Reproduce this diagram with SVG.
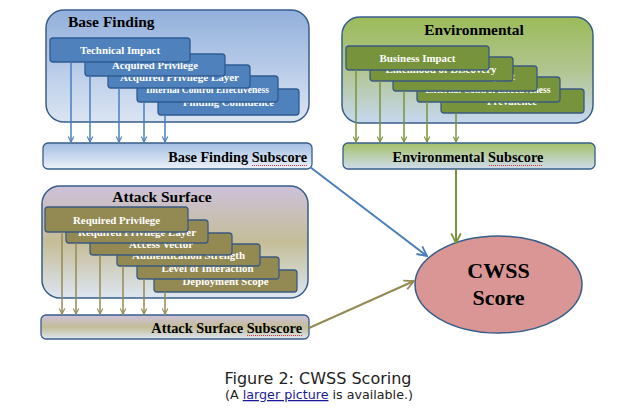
<svg xmlns="http://www.w3.org/2000/svg" width="625" height="412" viewBox="0 0 625 412">
<defs>
<linearGradient id="gBlue" x1="0" y1="0" x2="0" y2="1"><stop offset="0" stop-color="#92b0dc"/><stop offset="1" stop-color="#dbe5f3"/></linearGradient>
<linearGradient id="gBlueBar" x1="0" y1="0" x2="0" y2="1"><stop offset="0" stop-color="#a3bde2"/><stop offset="1" stop-color="#edf2f9"/></linearGradient>
<linearGradient id="gGreen" x1="0" y1="0" x2="0" y2="1"><stop offset="0" stop-color="#9bbb59"/><stop offset="0.5" stop-color="#b1c58f"/><stop offset="1" stop-color="#c6d8f0"/></linearGradient>
<linearGradient id="gGreenBar" x1="0" y1="0" x2="0" y2="1"><stop offset="0" stop-color="#a4c169"/><stop offset="1" stop-color="#cfdcec"/></linearGradient>
<linearGradient id="gOlive" x1="0" y1="0" x2="0" y2="1"><stop offset="0" stop-color="#cdc1da"/><stop offset="0.5" stop-color="#c4bd97"/><stop offset="1" stop-color="#dde6f2"/></linearGradient>
<marker id="aBlue" viewBox="0 0 10 10" refX="9" refY="5" markerWidth="7" markerHeight="7" orient="auto" markerUnits="userSpaceOnUse"><path d="M1,1 L9,5 L1,9" fill="none" stroke="#4a7ebb" stroke-width="1.6"/></marker>
<marker id="aGreen" viewBox="0 0 10 10" refX="9" refY="5" markerWidth="7" markerHeight="7" orient="auto" markerUnits="userSpaceOnUse"><path d="M1,1 L9,5 L1,9" fill="none" stroke="#77933c" stroke-width="1.6"/></marker>
<marker id="aOlive" viewBox="0 0 10 10" refX="9" refY="5" markerWidth="7" markerHeight="7" orient="auto" markerUnits="userSpaceOnUse"><path d="M1,1 L9,5 L1,9" fill="none" stroke="#948a54" stroke-width="1.6"/></marker>
<marker id="aBlueL" viewBox="0 0 10 10" refX="9" refY="5" markerWidth="12" markerHeight="12" orient="auto" markerUnits="userSpaceOnUse"><path d="M1,1 L9,5 L1,9" fill="none" stroke="#4a7ebb" stroke-width="1.5"/></marker>
<marker id="aGreenL" viewBox="0 0 10 10" refX="9" refY="5" markerWidth="12" markerHeight="12" orient="auto" markerUnits="userSpaceOnUse"><path d="M1,1 L9,5 L1,9" fill="none" stroke="#77933c" stroke-width="1.5"/></marker>
<marker id="aOliveL" viewBox="0 0 10 10" refX="9" refY="5" markerWidth="12" markerHeight="12" orient="auto" markerUnits="userSpaceOnUse"><path d="M1,1 L9,5 L1,9" fill="none" stroke="#948a54" stroke-width="1.5"/></marker>
</defs>
<style>
.cont{stroke:#385d8a;stroke-width:1.5}
.bar{stroke:#385d8a;stroke-width:1.3}
.bb{fill:#4f81bd;stroke:#2f5b91;stroke-width:1.3}
.gb{fill:#77933c;stroke:#3b5a80;stroke-width:1.3}
.ob{fill:#938953;stroke:#3b5a80;stroke-width:1.3}
.bt{font-family:"Liberation Serif",serif;font-weight:bold;font-size:11px;fill:#fff;text-anchor:middle}
.sm{font-size:9.5px}
.tt{font-family:"Liberation Serif",serif;font-weight:bold;font-size:15.5px;fill:#000}
.st{font-family:"Liberation Serif",serif;font-weight:bold;font-size:14.3px;fill:#000}
.sq{stroke:#e03030;stroke-width:1;stroke-dasharray:1 1;fill:none}
.cb{stroke:#4a7ebb;stroke-width:1.5;fill:none;marker-end:url(#aBlue)}
.cg{stroke:#77933c;stroke-width:1.5;fill:none;marker-end:url(#aGreen)}
.co{stroke:#948a54;stroke-width:1.5;fill:none;marker-end:url(#aOlive)}
.cap{font-family:"DejaVu Sans",Verdana,sans-serif;fill:#222;text-anchor:middle}
</style>

<!-- Base Finding -->
<g id="base-finding">
<rect class="cont" x="46" y="10" width="263" height="112" rx="18" fill="url(#gBlue)"/>
<text class="tt" x="68" y="27">Base Finding</text>
</g>
<g id="finding-confidence"><rect class="bb" x="158" y="89" width="141" height="26" rx="3"/><text class="bt" x="228.5" y="106" textLength="91" lengthAdjust="spacingAndGlyphs">Finding Confidence</text></g>
<g id="internal-control-effectiveness"><rect class="bb" x="137" y="76" width="141" height="26" rx="3"/><text class="bt sm" x="207.5" y="92.5" textLength="123" lengthAdjust="spacingAndGlyphs">Internal Control Effectiveness</text></g>
<g id="acquired-privilege-layer"><rect class="bb" x="108" y="65" width="142" height="23" rx="3"/><text class="bt" x="179.5" y="80.5" textLength="119" lengthAdjust="spacingAndGlyphs">Acquired Privilege Layer</text></g>
<g id="acquired-privilege"><rect class="bb" x="85" y="54" width="140" height="22" rx="3"/><text class="bt" x="155" y="69" textLength="86" lengthAdjust="spacingAndGlyphs">Acquired Privilege</text></g>
<g id="technical-impact"><rect class="bb" x="50" y="38" width="140" height="24" rx="3"/><text class="bt" x="120" y="54" textLength="80" lengthAdjust="spacingAndGlyphs">Technical Impact</text></g>
<g id="base-finding-subscore">
<rect class="bar" x="43" y="143" width="269" height="26" rx="5" fill="url(#gBlueBar)"/>
<text class="st" x="307" y="162" text-anchor="end">Base Finding Subscore</text>
<line class="sq" x1="252" y1="165.5" x2="307" y2="165.5"/>
</g>

<!-- Environmental -->
<g id="environmental">
<rect class="cont" x="342" y="17" width="251" height="106" rx="18" fill="url(#gGreen)"/>
<text class="tt" x="474" y="35" text-anchor="middle">Environmental</text>
</g>
<g id="prevalence"><rect class="gb" x="441" y="89" width="143" height="24" rx="3"/><text class="bt" x="512" y="105" textLength="50" lengthAdjust="spacingAndGlyphs">Prevalence</text></g>
<g id="external-control-effectiveness"><rect class="gb" x="417" y="77" width="143" height="25" rx="3"/><text class="bt sm" x="488" y="93" textLength="125" lengthAdjust="spacingAndGlyphs">External Control Effectiveness</text></g>
<g id="likelihood-of-exploit"><rect class="gb" x="393" y="66" width="144" height="25" rx="3"/><text class="bt" x="465" y="80">Likelihood of Exploit</text></g>
<g id="likelihood-of-discovery"><rect class="gb" x="370" y="57" width="143" height="24" rx="3"/><text class="bt" x="441" y="73" textLength="111" lengthAdjust="spacingAndGlyphs">Likelihood of Discovery</text></g>
<g id="business-impact"><rect class="gb" x="346" y="46" width="143" height="24" rx="3"/><text class="bt" x="417.5" y="62" textLength="76" lengthAdjust="spacingAndGlyphs">Business Impact</text></g>
<g id="environmental-subscore">
<rect class="bar" x="343" y="143" width="252" height="26" rx="5" fill="url(#gGreenBar)"/>
<text class="st" x="468" y="162" text-anchor="middle">Environmental Subscore</text>
<line class="sq" x1="489" y1="165.5" x2="543" y2="165.5"/>
</g>

<!-- Attack Surface -->
<g id="attack-surface">
<rect class="cont" x="42" y="186" width="266" height="112" rx="18" fill="url(#gOlive)"/>
<text class="tt" x="162" y="202" text-anchor="middle">Attack Surface</text>
</g>
<g id="deployment-scope"><rect class="ob" x="154" y="270" width="143" height="22" rx="3"/><text class="bt" x="225.5" y="285" textLength="86" lengthAdjust="spacingAndGlyphs">Deployment Scope</text></g>
<g id="level-of-interaction"><rect class="ob" x="137" y="257" width="142" height="22" rx="3"/><text class="bt" x="207.5" y="272" textLength="92" lengthAdjust="spacingAndGlyphs">Level of Interaction</text></g>
<g id="authentication-strength"><rect class="ob" x="117" y="244" width="143" height="22" rx="3"/><text class="bt" x="188.5" y="259" textLength="113" lengthAdjust="spacingAndGlyphs">Authentication Strength</text></g>
<g id="access-vector"><rect class="ob" x="90" y="233" width="142" height="22" rx="3"/><text class="bt" x="161" y="248" textLength="64" lengthAdjust="spacingAndGlyphs">Access Vector</text></g>
<g id="required-privilege-layer"><rect class="ob" x="66" y="220" width="142" height="23" rx="3"/><text class="bt" x="137" y="235.5" textLength="118" lengthAdjust="spacingAndGlyphs">Required Privilege Layer</text></g>
<g id="required-privilege"><rect class="ob" x="45" y="207" width="143" height="25" rx="3"/><text class="bt" x="116.5" y="223.5" textLength="87" lengthAdjust="spacingAndGlyphs">Required Privilege</text></g>
<g id="attack-surface-subscore">
<rect class="bar" x="41" y="315" width="268" height="24" rx="5" fill="url(#gOlive)"/>
<text class="st" x="302" y="332.5" text-anchor="end">Attack Surface Subscore</text>
<line class="sq" x1="247" y1="335.5" x2="302" y2="335.5"/>
</g>

<!-- CWSS Score -->
<g id="cwss-score">
<ellipse cx="498.5" cy="284.5" rx="83.5" ry="48.5" fill="#d99694" stroke="#385d8a" stroke-width="1.5"/>
<text x="498.5" y="278" font-family="Liberation Serif,serif" font-weight="bold" font-size="22" text-anchor="middle">CWSS</text>
<text x="498.5" y="305" font-family="Liberation Serif,serif" font-weight="bold" font-size="22" text-anchor="middle">Score</text>
</g>

<!-- Connectors -->
<g id="connectors">
<line class="cb" x1="71" y1="62" x2="71" y2="142"/>
<line class="cb" x1="90" y1="76" x2="90" y2="142"/>
<line class="cb" x1="119" y1="88" x2="119" y2="142"/>
<line class="cb" x1="144" y1="102" x2="144" y2="142"/>
<line class="cb" x1="165" y1="115" x2="165" y2="142"/>
<line class="cg" x1="356" y1="70" x2="356" y2="142"/>
<line class="cg" x1="380" y1="81" x2="380" y2="142"/>
<line class="cg" x1="404" y1="91" x2="404" y2="142"/>
<line class="cg" x1="427" y1="102" x2="427" y2="142"/>
<line class="cg" x1="456" y1="113" x2="456" y2="142"/>
<line class="co" x1="62" y1="232" x2="62" y2="314"/>
<line class="co" x1="76" y1="243" x2="76" y2="314"/>
<line class="co" x1="100" y1="255" x2="100" y2="314"/>
<line class="co" x1="123" y1="266" x2="123" y2="314"/>
<line class="co" x1="144" y1="279" x2="144" y2="314"/>
<line class="co" x1="165" y1="292" x2="165" y2="314"/>
<line x1="310" y1="167" x2="427" y2="256" stroke="#4a7ebb" stroke-width="2" marker-end="url(#aBlueL)"/>
<line x1="456" y1="169" x2="456" y2="243" stroke="#77933c" stroke-width="2" marker-end="url(#aGreenL)"/>
<line x1="309" y1="328" x2="414" y2="281" stroke="#948a54" stroke-width="2" marker-end="url(#aOliveL)"/>
</g>

<!-- Caption -->
<text class="cap" x="318" y="384" font-size="16">Figure 2: CWSS Scoring</text>
<text class="cap" x="319" y="399" font-size="12.7">(A <tspan fill="#1a1a9a" text-decoration="underline">larger picture</tspan> is available.)</text>
</svg>
